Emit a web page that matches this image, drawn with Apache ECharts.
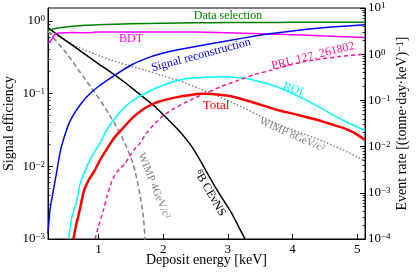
<!DOCTYPE html>
<html><head><meta charset="utf-8">
<script src="https://cdn.jsdelivr.net/npm/echarts@6/dist/echarts.min.js"></script>
<style>html,body{margin:0;padding:0;background:#fff}#c{width:416px;height:272px}</style>
</head><body><div id="c"></div>
<script>
// ---- tick values ----
const xTicks = [1, 2, 3, 4, 5];
const effTicks = [0.001, 0.01, 0.1, 1];
const rateTicks = [0.0001, 0.001, 0.01, 0.1, 1, 10];

// ---- signal efficiency curves (left axis) [energy keV, efficiency] ----
const dataSelection = [[0.22,0.74],[0.3,0.77],[0.4,0.80],[0.6,0.84],[0.8,0.87],[1.0,0.885],[1.5,0.91],[2.0,0.925],[2.5,0.94],[3.0,0.945],[3.5,0.95],[4.0,0.952],[4.5,0.955],[5.12,0.957]];
const bdt = [[0.22,0.50],[0.25,0.52],[0.29,0.58],[0.33,0.66],[0.4,0.68],[0.6,0.69],[0.8,0.685],[1.0,0.70],[1.5,0.70],[2.0,0.70],[2.5,0.70],[3.0,0.685],[3.5,0.665],[4.0,0.645],[4.5,0.62],[5.12,0.59]];
const signalReco = [[0.22,0.0012],[0.25,0.0025],[0.3,0.0045],[0.35,0.008],[0.41,0.016],[0.47,0.025],[0.54,0.038],[0.62,0.052],[0.7,0.067],[0.85,0.096],[1.0,0.125],[1.26,0.18],[1.5,0.245],[1.72,0.30],[2.0,0.36],[2.23,0.40],[2.65,0.47],[3.0,0.53],[3.42,0.62],[3.68,0.67],[4.19,0.76],[4.6,0.82],[5.12,0.88]];
const roi = [[0.537,0.001],[0.589,0.002],[0.666,0.0034],[0.717,0.0058],[0.821,0.0099],[0.92,0.015],[1.026,0.021],[1.12,0.031],[1.25,0.045],[1.412,0.066],[1.6,0.088],[1.825,0.112],[2.0,0.13],[2.236,0.152],[2.45,0.163],[2.649,0.168],[2.957,0.170],[3.266,0.162],[3.5,0.145],[3.678,0.131],[3.94,0.106],[4.2,0.082],[4.4,0.066],[4.62,0.051],[4.85,0.04],[5.12,0.031]];
const total = [[0.614,0.001],[0.65,0.0015],[0.691,0.0021],[0.735,0.0032],[0.779,0.0047],[0.85,0.0065],[0.934,0.0085],[1.02,0.012],[1.119,0.0167],[1.25,0.025],[1.386,0.034],[1.52,0.046],[1.67,0.059],[1.8,0.069],[1.927,0.077],[2.236,0.090],[2.4,0.095],[2.597,0.099],[2.8,0.098],[3.008,0.093],[3.2,0.085],[3.42,0.074],[3.6,0.066],[3.78,0.059],[4.0,0.053],[4.19,0.048],[4.4,0.043],[4.55,0.039],[4.81,0.033],[4.95,0.029],[5.12,0.023]];
const prl = [[0.949,0.001],[1.0,0.0015],[1.077,0.0025],[1.13,0.0038],[1.207,0.0063],[1.284,0.0083],[1.412,0.011],[1.541,0.0165],[1.644,0.021],[1.721,0.027],[1.85,0.037],[1.979,0.048],[2.15,0.061],[2.339,0.075],[2.5,0.088],[2.649,0.100],[2.9,0.125],[3.162,0.152],[3.42,0.183],[3.678,0.21],[3.94,0.245],[4.19,0.275],[4.45,0.30],[4.72,0.322],[5.12,0.35]];

// ---- event rate curves (right axis) [energy keV, rate] ----
const cevns = [[0.22,3.7],[0.5,1.95],[0.8,0.98],[1.0,0.62],[1.2,0.40],[1.4,0.25],[1.54,0.175],[1.67,0.125],[1.876,0.073],[2.05,0.042],[2.236,0.0228],[2.443,0.0100],[2.597,0.0044],[2.7,0.0024],[2.803,0.00135],[2.93,0.0007],[3.06,0.00036],[3.17,0.00018],[3.266,0.0001],[3.3,0.00008]];
const wimp4 = [[0.22,3.1],[0.35,1.9],[0.486,1.13],[0.6,0.70],[0.691,0.455],[0.8,0.28],[0.923,0.161],[1.04,0.095],[1.154,0.0526],[1.26,0.030],[1.361,0.0164],[1.44,0.0093],[1.515,0.0051],[1.57,0.0028],[1.617,0.00135],[1.66,0.00065],[1.695,0.0003],[1.72,0.0001],[1.73,0.00007]];
const wimp8 = [[0.22,3.1],[0.45,2.14],[0.69,1.41],[0.95,1.0],[1.2,0.74],[1.46,0.575],[1.72,0.452],[1.98,0.347],[2.24,0.269],[2.55,0.182],[2.8,0.132],[3.06,0.091],[3.27,0.066],[3.47,0.048],[3.68,0.0347],[3.89,0.0263],[4.1,0.0204],[4.3,0.0162],[4.48,0.0129],[4.66,0.01],[4.85,0.0076],[5.02,0.0058],[5.12,0.005]];

const FONT = '"Liberation Serif", "DejaVu Serif", serif';
const RICH = {
  b: {fontFamily: FONT, fontSize: 13, color: '#000', lineHeight: 13, verticalAlign: 'bottom'},
  e: {fontFamily: FONT, fontSize: 9, color: '#000', lineHeight: 9, verticalAlign: 'top', padding: [0, 0, 7, 0]}
};
function powLabel(v) {
  const e = Math.round(Math.log10(v));
  return '{b|10}{e|' + (e < 0 ? '\u2212' + (-e) : e) + '}';
}
function minors(lo, hi, maxV) {
  const out = [];
  for (let e = lo; e < hi; e++) for (let m = 2; m <= 9; m++) {
    const v = parseFloat((m * Math.pow(10, e)).toPrecision(6));
    if (v <= maxV) out.push(v);
  }
  return out;
}
function majorAxis(pos, min, max, ticks, name, gap) {
  return {
    type: 'log', logBase: 10, position: pos, min: min, max: max,
    axisLine: {show: true, lineStyle: {color: '#000', width: 1}},
    axisTick: {show: true, inside: true, length: 5, customValues: ticks, lineStyle: {color: '#000', width: 1}},
    axisLabel: {show: true, customValues: ticks, formatter: powLabel, margin: 3, rich: RICH},
    minorTick: {show: false}, splitLine: {show: false},
    name: name, nameLocation: 'middle', nameGap: gap, nameRotate: 90, nameMoveOverlap: false,
    nameTextStyle: {fontFamily: FONT, fontSize: 14, color: '#000',
      rich: {a: {fontFamily: FONT, fontSize: 14, color: '#000', lineHeight: 14, verticalAlign: 'bottom'},
             e: {fontFamily: FONT, fontSize: 10, color: '#000', lineHeight: 10, verticalAlign: 'top', padding: [0,0,6,0]}}}
  };
}
function minorAxis(pos, min, max, ticks) {
  return {
    type: 'log', logBase: 10, position: pos, min: min, max: max,
    axisLine: {show: false},
    axisTick: {show: true, inside: true, length: 2.5, customValues: ticks, lineStyle: {color: '#000', width: 0.8}},
    axisLabel: {show: false}, splitLine: {show: false}
  };
}
function line(data, color, width, yIdx, type, z) {
  return {type: 'line', data: data, yAxisIndex: yIdx, showSymbol: false, symbol: 'none', clip: true,
          smooth: 0.2, z: z || 2, lineStyle: {color: color, width: width, type: type || 'solid'}};
}
function label(text, x, y, color, deg, size, rich) {
  return {type: 'text', x: x, y: y, rotation: deg * Math.PI / 180, z: 100,
    style: {text: text, fill: color, font: (size || 12) + 'px ' + FONT, fontFamily: FONT, fontSize: size || 12,
      align: 'center', verticalAlign: 'middle', textAlign: 'center', textVerticalAlign: 'middle', rich: rich}};
}

const chart = echarts.init(document.getElementById('c'), null, {renderer: 'canvas', width: 416, height: 272});
chart.setOption({
  animation: false,
  backgroundColor: '#fff',
  grid: {left: 48, top: 8, width: 317, height: 231, show: true, borderColor: '#000', borderWidth: 1,
         backgroundColor: 'transparent', containLabel: false, outerBoundsMode: 'none'},
  xAxis: {
    type: 'value', min: 0.22, max: 5.12,
    axisLine: {show: true, onZero: false, lineStyle: {color: '#000', width: 1}},
    axisTick: {show: true, inside: true, length: 5, customValues: xTicks, lineStyle: {color: '#000'}},
    axisLabel: {customValues: xTicks, margin: 4, fontFamily: FONT, fontSize: 13, color: '#000'},
    splitLine: {show: false},
    name: 'Deposit energy [keV]', nameLocation: 'middle', nameGap: 14, nameMoveOverlap: false,
    nameTextStyle: {fontFamily: FONT, fontSize: 14, color: '#000'}
  },
  yAxis: [
    majorAxis('left', 0.001, 1.5, effTicks, 'Signal efficiency', 32),
    majorAxis('right', 0.0001, 10, rateTicks, '{a|Event rate [(tonne\u00b7day\u00b7keV)}{e|\u22121}{a|]}', 30),
    minorAxis('left', 0.001, 1.5, minors(-3, 1, 1.5)),
    minorAxis('right', 0.0001, 10, minors(-4, 1, 10))
  ],
  series: [
    line(wimp8, '#808080', 1.5, 1, [1.5, 2]),
    line(wimp4, '#808080', 1.5, 1, [5, 3]),
    line(cevns, '#000000', 1.5, 1),
    line(dataSelection, '#008000', 1.5, 0),
    line(bdt, '#ff00ff', 1.5, 0),
    line(signalReco, '#0000ff', 1.5, 0),
    line(roi, '#00ffff', 1.5, 0),
    line(prl, '#ff1493', 1.5, 0, [4, 3]),
    line(total, '#ff0000', 2.5, 0, 'solid', 3)
  ],
  graphic: [
    label('Data selection', 228, 16, '#008000', 0, 12),
    label('BDT', 131, 39, '#ff00ff', 0, 12),
    label('Signal reconstruction', 201, 55, '#0000ff', 15, 12),
    label('PRL 127, 261802', 313, 56, '#ff1493', 14, 12),
    label('ROI', 293, 89, '#00ffff', -20, 12),
    label('Total', 216, 106, '#ff0000', 0, 13),
    label('WIMP 8GeV/c\u00b2', 292, 135, '#808080', -24, 11),
    label('WIMP 4GeV/c\u00b2', 154, 186, '#808080', -68, 11),
    label('{s|8}{n|B CE\u03bdNS}', 210, 193, '#000000', -60, 12,
      {s: {fontFamily: FONT, fontSize: 8, fill: '#000', color: '#000', lineHeight: 8, verticalAlign: 'top', padding: [0,0,6,0]},
       n: {fontFamily: FONT, fontSize: 12, fill: '#000', color: '#000', lineHeight: 12, verticalAlign: 'bottom'}})
  ]
});
</script>
</body></html>
